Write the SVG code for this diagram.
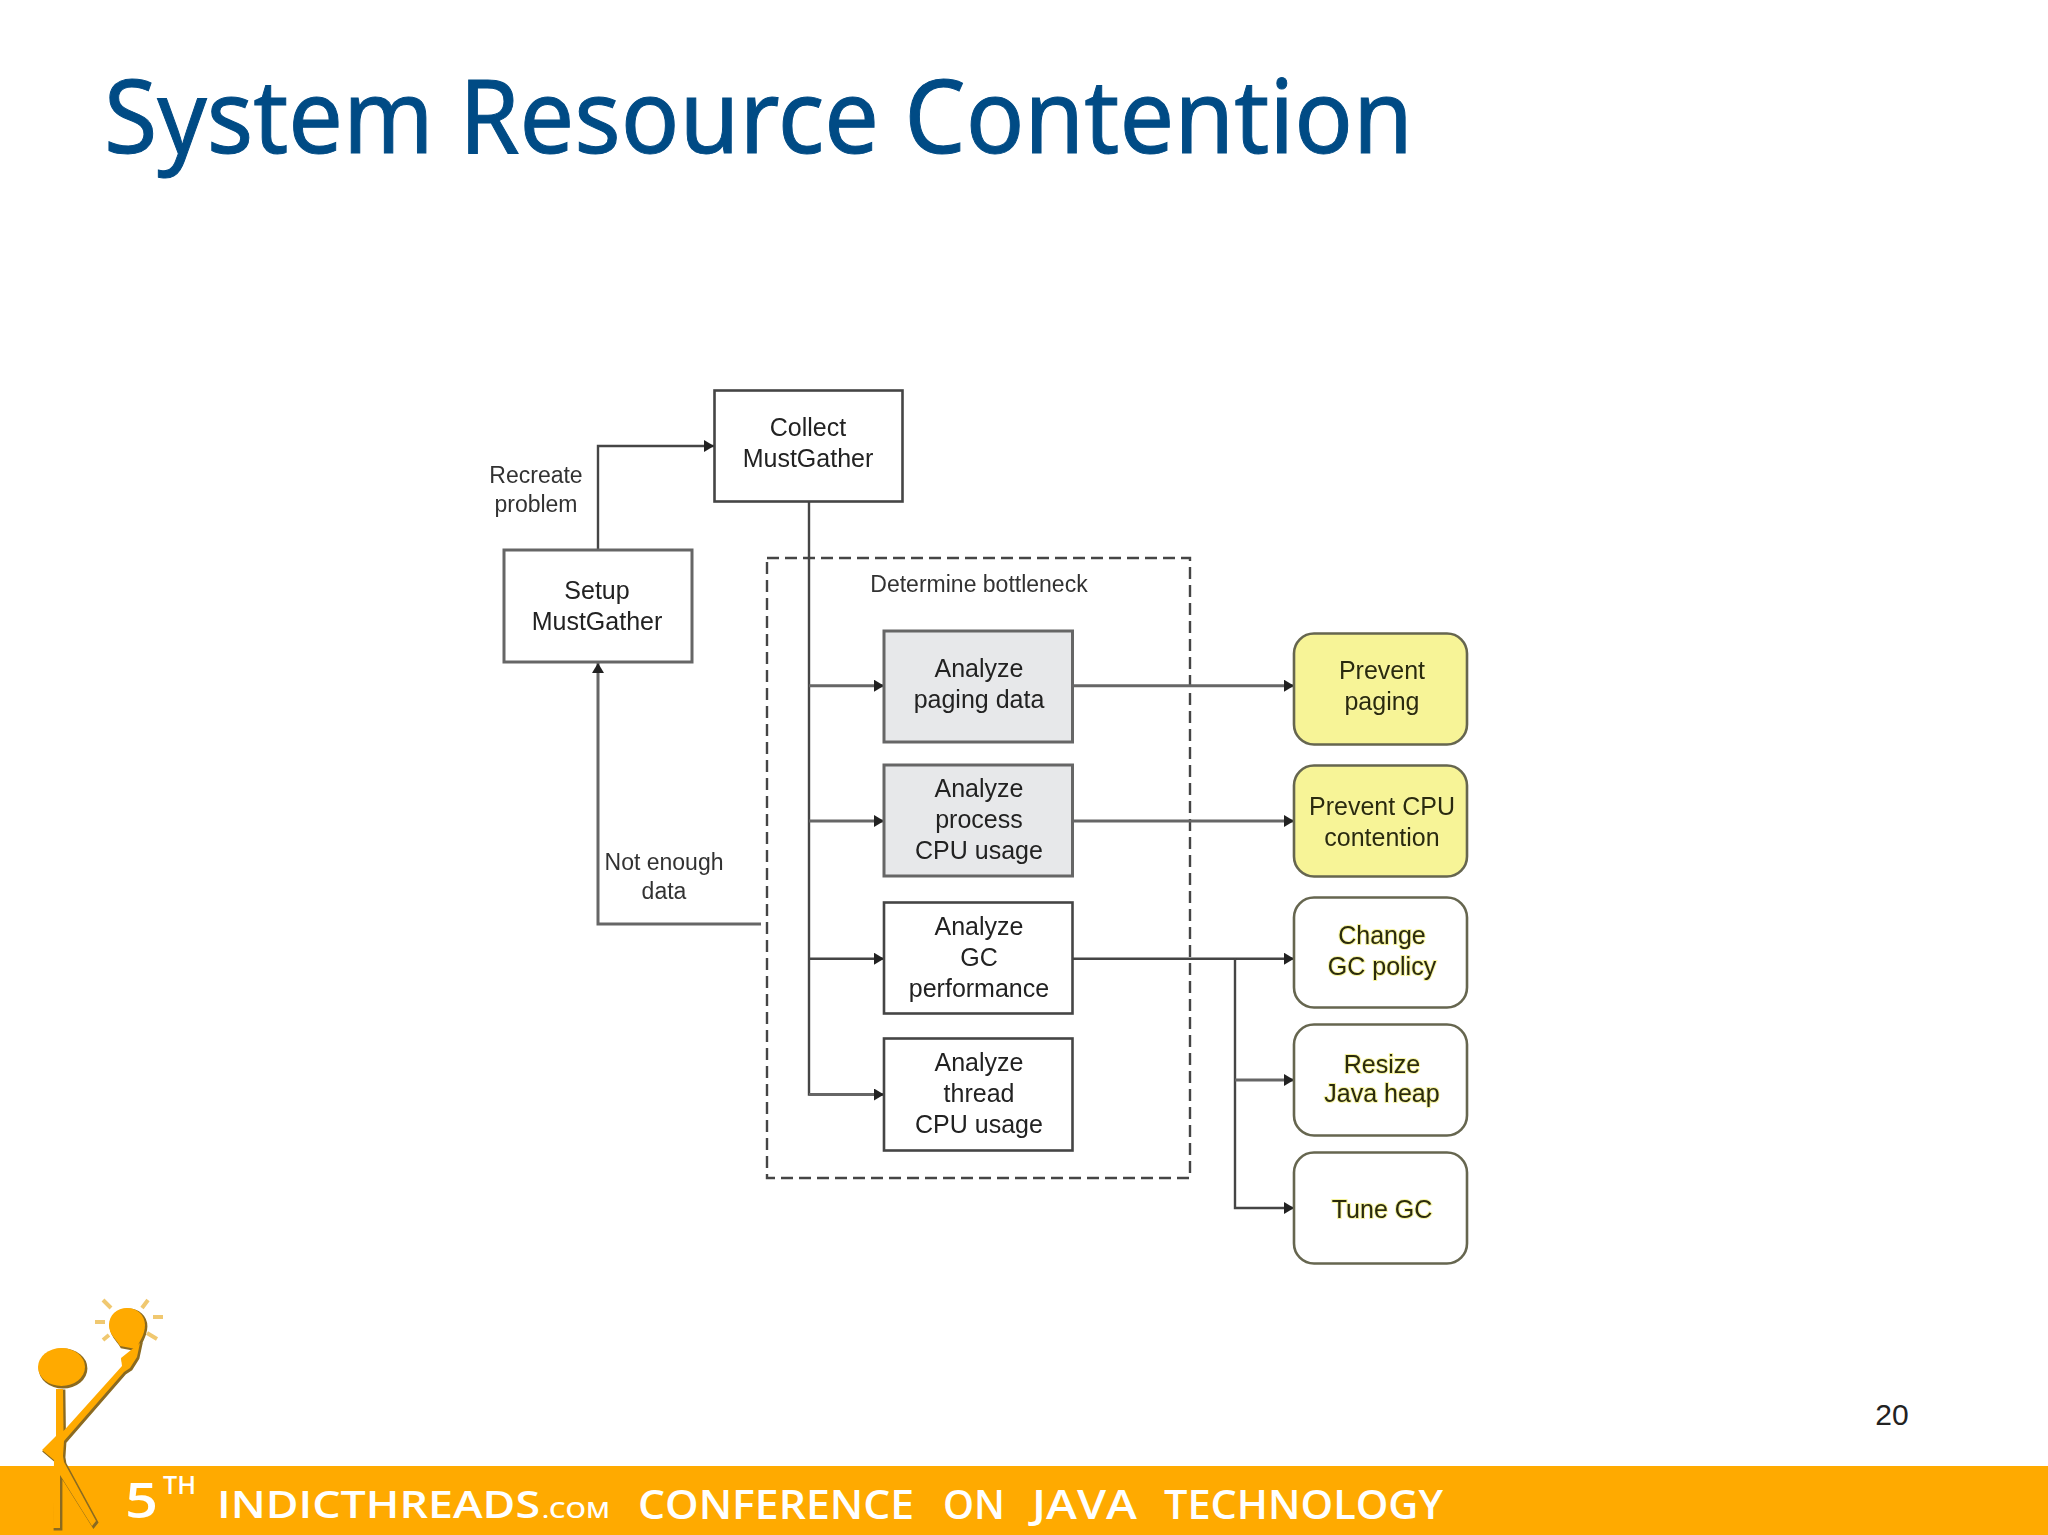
<svg xmlns="http://www.w3.org/2000/svg" width="2048" height="1535" viewBox="0 0 2048 1535">
<defs>
<style>
text{font-family:"Liberation Sans",Arial,sans-serif;text-anchor:middle}
.t{font-size:25px;fill:#222}
.l{font-size:23px;fill:#333}
.y{font-size:25px;fill:#2c2c10;stroke:#f7f4a0;stroke-width:2;paint-order:stroke}
.box{fill:#fff;stroke:#444;stroke-width:2.6}
.gr{fill:#e7e8ea;stroke:#666;stroke-width:3}
.rb{fill:#fff;stroke:#666650;stroke-width:2.6}
.rf{fill:#f7f497;stroke:#666650;stroke-width:2.6}
.c{fill:none;stroke:#444;stroke-width:2.4}
.g{fill:none;stroke:#666;stroke-width:3}
.f{font-family:"Open Sans","Liberation Sans",sans-serif;fill:#fff;font-weight:600;text-anchor:start}
.o{fill:#ffaa00}
</style>
<marker id="a" markerUnits="userSpaceOnUse" markerWidth="10" markerHeight="12" refX="10" refY="6" orient="auto"><path d="M0 0L10 6L0 12Z" fill="#222"/></marker>
<filter id="b" x="-2%" y="-2%" width="104%" height="104%"><feGaussianBlur stdDeviation="0.7"/></filter>
<g id="fig">
<ellipse cx="61.5" cy="1367" rx="23.5" ry="19"/>
<path d="M56 1389H63L63.5 1431L122 1366L121 1358L131 1350L140 1343L137 1357L130 1368L124 1372L64 1441L63 1456L64 1462L96 1521L92 1526L60 1475L60 1528H53L54 1460L42 1450L56 1436Z"/>
<path d="M127 1308C137 1308 145 1315 145 1325C145 1335 139 1342 136 1349L120 1346C117 1340 109 1335 109 1325C109 1315 117 1308 127 1308Z"/>
</g>
</defs>
<rect width="2048" height="1535" fill="#fff"/>
<text id="title" x="104" y="153" style="font-family:'Noto Sans',sans-serif;text-anchor:start;font-size:103px;fill:#004b85;stroke:#004b85;stroke-width:1" textLength="1309" lengthAdjust="spacingAndGlyphs">System Resource Contention</text>

<g id="diagram" filter="url(#b)">
<g id="connectors">
<rect id="bottleneck-frame" x="767" y="558" width="423" height="620" fill="none" stroke="#444" stroke-width="2.4" stroke-dasharray="12 6"/>
<path class="c" d="M598 550V446H714" marker-end="url(#a)"/>
<path class="g" d="M761 924H598V663" marker-end="url(#a)"/>
<path class="c" d="M809 502V1094.5H884"/>
<path class="g" d="M809 685.7H884" marker-end="url(#a)"/>
<path class="g" d="M809 821H884" marker-end="url(#a)"/>
<path class="c" d="M809 958.7H884" marker-end="url(#a)"/>
<path class="g" d="M809 1094.5H884" marker-end="url(#a)"/>
<path class="g" d="M1072 685.7H1294" marker-end="url(#a)"/>
<path class="g" d="M1072 821H1294" marker-end="url(#a)"/>
<path class="c" d="M1072 958.7H1294" marker-end="url(#a)"/>
<path class="c" d="M1235 958.7V1208H1294" marker-end="url(#a)"/>
<path class="g" d="M1235 1080H1294" marker-end="url(#a)"/>
</g>
<g id="collect"><rect class="box" x="714.5" y="390.5" width="188" height="111"/><text class="t" x="808" y="436">Collect</text><text class="t" x="808" y="467">MustGather</text></g>
<g id="setup"><rect class="gr" style="fill:#fff" x="504" y="550" width="188" height="112"/><text class="t" x="597" y="598.5">Setup</text><text class="t" x="597" y="630">MustGather</text></g>
<g id="label-recreate"><text class="l" x="536" y="482.5">Recreate</text><text class="l" x="536" y="512">problem</text></g>
<g id="label-not-enough"><text class="l" x="664" y="870">Not enough</text><text class="l" x="664" y="899">data</text></g>
<g id="label-bottleneck"><text class="l" x="979" y="591.5">Determine bottleneck</text></g>
<g id="analyze-paging"><rect class="gr" x="884" y="631" width="188.5" height="111"/><text class="t" x="979" y="676.5">Analyze</text><text class="t" x="979" y="707.5">paging data</text></g>
<g id="analyze-process"><rect class="gr" x="884" y="765" width="188.5" height="111"/><text class="t" x="979" y="797">Analyze</text><text class="t" x="979" y="828">process</text><text class="t" x="979" y="859">CPU usage</text></g>
<g id="analyze-gc"><rect class="box" x="884" y="902.5" width="188.5" height="111"/><text class="t" x="979" y="935">Analyze</text><text class="t" x="979" y="966">GC</text><text class="t" x="979" y="997">performance</text></g>
<g id="analyze-thread"><rect class="box" x="884" y="1038.5" width="188.5" height="112"/><text class="t" x="979" y="1071">Analyze</text><text class="t" x="979" y="1102">thread</text><text class="t" x="979" y="1133">CPU usage</text></g>
<g id="prevent-paging"><rect class="rf" x="1294" y="633.5" width="173" height="111" rx="20"/><text class="y" x="1382" y="679">Prevent</text><text class="y" x="1382" y="710">paging</text></g>
<g id="prevent-cpu"><rect class="rf" x="1294" y="765.5" width="173" height="111" rx="20"/><text class="y" x="1382" y="815">Prevent CPU</text><text class="y" x="1382" y="846">contention</text></g>
<g id="change-gc"><rect class="rb" x="1294" y="897.5" width="173" height="110" rx="20"/><text class="y" x="1382" y="944">Change</text><text class="y" x="1382" y="975">GC policy</text></g>
<g id="resize-heap"><rect class="rb" x="1294" y="1024.5" width="173" height="111" rx="20"/><text class="y" x="1382" y="1073">Resize</text><text class="y" x="1382" y="1102">Java heap</text></g>
<g id="tune-gc"><rect class="rb" x="1294" y="1152.5" width="173" height="111" rx="20"/><text class="y" x="1382" y="1218">Tune GC</text></g>
</g>

<text id="page" x="1892" y="1425" style="font-size:30px;fill:#222">20</text>

<rect id="band" x="0" y="1466" width="2048" height="69" fill="#ffaa00"/>
<g id="footer">
<text class="f" x="125" y="1518" font-size="48" font-weight="700" textLength="33" lengthAdjust="spacingAndGlyphs">5</text>
<text class="f" x="163" y="1494" font-size="25" textLength="33" lengthAdjust="spacingAndGlyphs">TH</text>
<text class="f" x="217" y="1518" font-size="37" textLength="323" lengthAdjust="spacingAndGlyphs">INDICTHREADS</text>
<text class="f" x="542" y="1518" font-size="22" textLength="68" lengthAdjust="spacingAndGlyphs">.COM</text>
<text class="f" x="638" y="1519" font-size="40" textLength="276" lengthAdjust="spacingAndGlyphs">CONFERENCE</text>
<text class="f" x="943" y="1519" font-size="40" textLength="62" lengthAdjust="spacingAndGlyphs">ON</text>
<text class="f" x="1032" y="1519" font-size="40" textLength="105" lengthAdjust="spacingAndGlyphs">JAVA</text>
<text class="f" x="1164" y="1519" font-size="40" textLength="279" lengthAdjust="spacingAndGlyphs">TECHNOLOGY</text>
</g>

<g id="figure" filter="url(#b)">
<use href="#fig" x="1.5" y="1.5" fill="#8a6a20" stroke="#8a6a20" stroke-width="1.8"/>
<use href="#fig" class="o"/>
<path d="M103 1300L111 1308M148 1300L142 1308M95 1322H105M153 1317H163M103 1340L109 1335M147 1333L157 1339" stroke="#f0c870" stroke-width="4" fill="none"/>
</g>
</svg>
